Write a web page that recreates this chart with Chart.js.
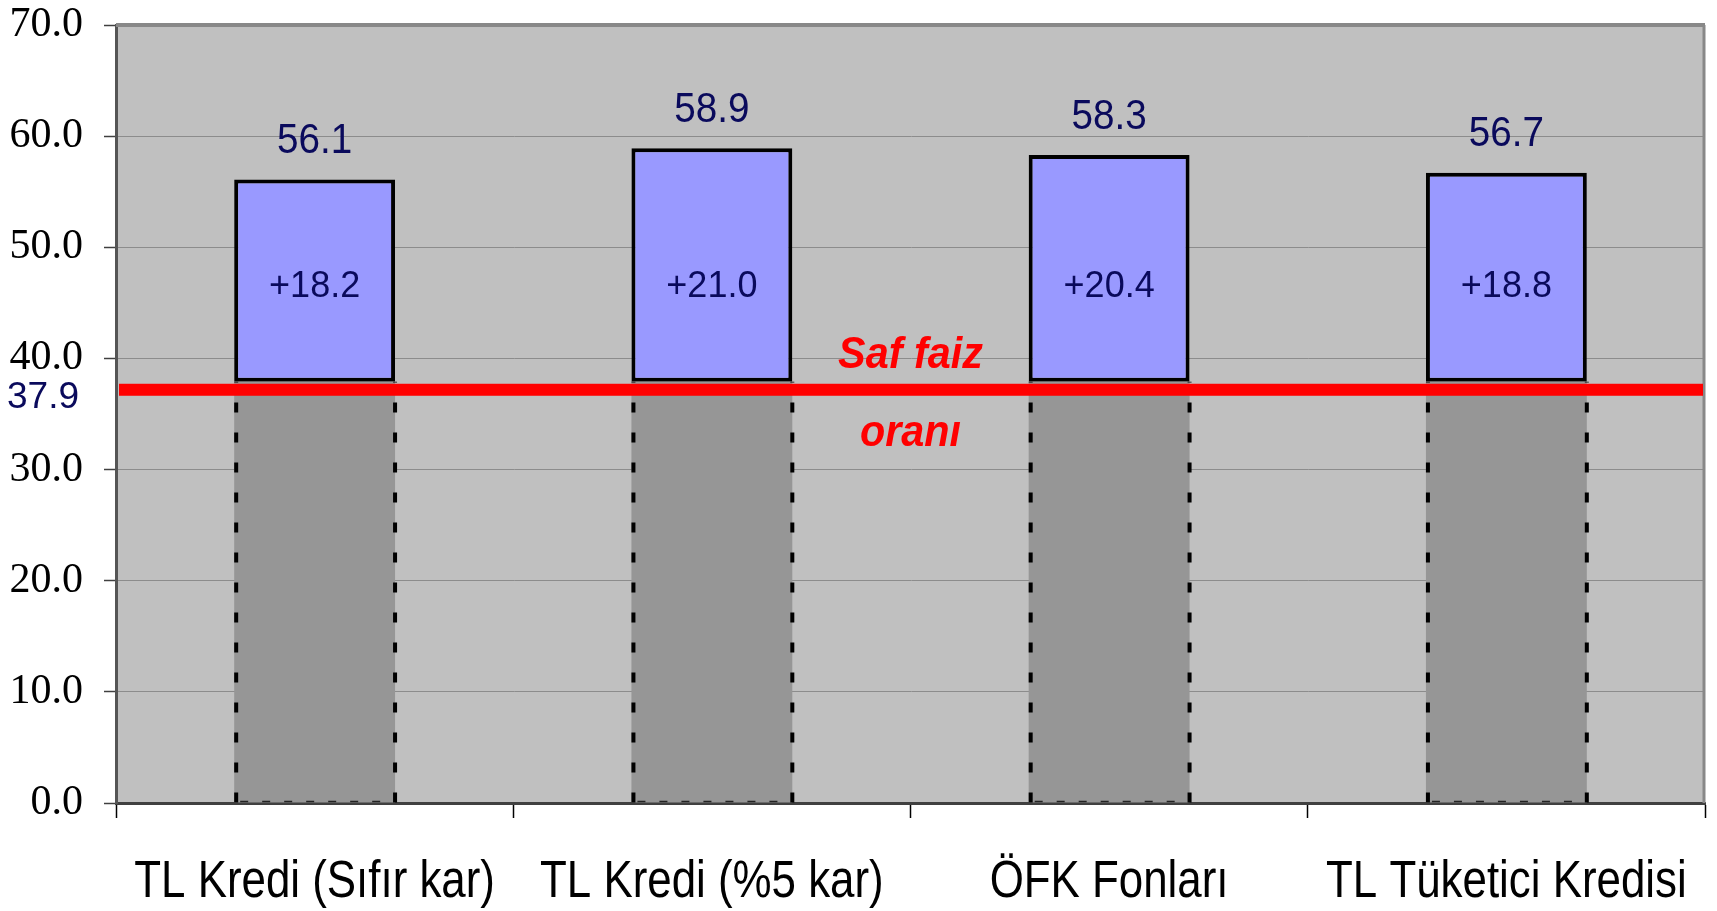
<!DOCTYPE html>
<html>
<head>
<meta charset="utf-8">
<script src="https://cdn.jsdelivr.net/npm/chart.js@4.4.1/dist/chart.umd.min.js"></script>
<style>
  html, body { margin: 0; padding: 0; background: #ffffff; }
  #wrap { width: 1717px; height: 911px; position: relative; }
</style>
</head>
<body>
<div id="wrap"><canvas id="c"></canvas></div>
<script>
// ---- data ----
const categories = ['TL Kredi (Sıfır kar)', 'TL Kredi (%5 kar)', 'ÖFK Fonları', 'TL Tüketici Kredisi'];
const safFaizValue = 37.9;
const baseValues = [37.9, 37.9, 37.9, 37.9];
const premiumValues = [18.2, 21.0, 20.4, 18.8];
const totalValues = [56.1, 58.9, 58.3, 56.7];
const premiumLabels = ['+18.2', '+21.0', '+20.4', '+18.8'];
const safFaizLines = ['Saf faiz', 'oranı'];
const yMin = 0, yMax = 70, yStep = 10;

const NAVY = '#0a0a5c';
const SANS = '"Liberation Sans", Arial, sans-serif';

function drawScaled(ctx, text, x, y, sx) {
  ctx.save();
  ctx.translate(x, y);
  ctx.scale(sx, 1);
  ctx.fillText(text, 0, 0);
  ctx.restore();
}

const decor = {
  id: 'decor',
  beforeDraw(chart) {
    const { ctx, chartArea: a } = chart;
    ctx.save();
    ctx.fillStyle = '#C0C0C0';
    ctx.fillRect(a.left, a.top, a.right - a.left, a.bottom - a.top);
    ctx.restore();
  },
  afterDatasetsDraw(chart) {
    const { ctx, chartArea: a, scales: { x, y } } = chart;
    ctx.save();
    // frame top / right
    ctx.strokeStyle = '#888888';
    ctx.lineWidth = 4;
    ctx.beginPath(); ctx.moveTo(a.left, a.top); ctx.lineTo(a.right, a.top); ctx.stroke();
    ctx.lineWidth = 3;
    ctx.beginPath(); ctx.moveTo(a.right - 1, a.top); ctx.lineTo(a.right - 1, a.bottom); ctx.stroke();

    // dashed edges of base bars
    const baseMeta = chart.getDatasetMeta(0);
    baseMeta.data.forEach(bar => {
      const p = bar.getProps(['x', 'y', 'base', 'width'], true);
      const l = p.x - p.width / 2, r = p.x + p.width / 2;
      ctx.strokeStyle = '#000';
      ctx.lineWidth = 4;
      ctx.setLineDash([10, 20]);
      [l + 2, r].forEach(xx => {
        ctx.beginPath(); ctx.moveTo(xx, p.base); ctx.lineTo(xx, p.y); ctx.stroke();
      });
      ctx.lineWidth = 1.5;
      ctx.setLineDash([8, 14]);
      ctx.strokeStyle = '#222';
      ctx.beginPath(); ctx.moveTo(l + 6, p.base - 1); ctx.lineTo(r - 4, p.base - 1); ctx.stroke();
    });
    ctx.setLineDash([]);

    // red "saf faiz" line
    const yp = y.getPixelForValue(safFaizValue);
    const lc = yp + 8;
    ctx.fillStyle = '#FF0000';
    ctx.fillRect(a.left + 3, lc - 6, a.right - a.left - 5, 12);

    // value label for the line
    ctx.fillStyle = NAVY;
    ctx.font = '37px ' + SANS;
    ctx.textAlign = 'right';
    ctx.textBaseline = 'middle';
    ctx.fillText(safFaizValue.toFixed(1), a.left - 37, lc + 8);

    // "Saf faiz oranı"
    const mx = (x.getPixelForValue(1) + x.getPixelForValue(2)) / 2;
    ctx.fillStyle = '#FF0000';
    ctx.font = 'italic bold 44px ' + SANS;
    ctx.textAlign = 'center';
    ctx.textBaseline = 'alphabetic';
    drawScaled(ctx, safFaizLines[0], mx, lc - 22, 0.94);
    drawScaled(ctx, safFaizLines[1], mx, lc + 56, 0.94);

    // totals above bars & premium labels inside
    const topMeta = chart.getDatasetMeta(1);
    ctx.textBaseline = 'middle';
    topMeta.data.forEach((bar, i) => {
      const p = bar.getProps(['x', 'y'], true);
      ctx.fillStyle = NAVY;
      ctx.font = '42px ' + SANS;
      drawScaled(ctx, totalValues[i].toFixed(1), p.x, p.y - 38, 0.92);
      ctx.font = '36px ' + SANS;
      ctx.fillText(premiumLabels[i], p.x, y.getPixelForValue(46.4));
    });
    ctx.restore();
  },
  afterDraw(chart) {
    // category labels, drawn condensed (Arial Narrow look)
    const { ctx, scales: { x } } = chart;
    ctx.save();
    ctx.fillStyle = '#000000';
    ctx.font = '51px ' + SANS;
    ctx.textAlign = 'center';
    ctx.textBaseline = 'alphabetic';
    x.getLabels().forEach((lab, i) => {
      drawScaled(ctx, lab, x.getPixelForTick(i), x.top + 94, 0.86);
    });
    ctx.restore();
  }
};

new Chart(document.getElementById('c'), {
  type: 'bar',
  data: {
    labels: categories,
    datasets: [
      {
        label: 'Saf faiz oranı',
        data: baseValues,
        backgroundColor: '#969696',
        borderWidth: 0,
        categoryPercentage: 1,
        barPercentage: 0.405
      },
      {
        label: 'Fark',
        data: premiumValues,
        backgroundColor: '#9999FF',
        borderColor: '#000000',
        borderWidth: 4,
        borderSkipped: false,
        categoryPercentage: 1,
        barPercentage: 0.405
      }
    ]
  },
  options: {
    responsive: true,
    maintainAspectRatio: false,
    animation: false,
    layout: { padding: { top: 25, right: 12, left: 0, bottom: 0 } },
    plugins: {
      legend: { display: false },
      tooltip: { enabled: false },
      title: { display: false }
    },
    scales: {
      x: {
        stacked: true,
        offset: true,
        grid: {
          offset: true,
          drawOnChartArea: false,
          drawTicks: true,
          tickLength: 15,
          tickColor: '#000000',
          tickWidth: 1.5
        },
        border: { display: true, color: '#404040', width: 3 },
        ticks: {
          display: false
        },
        afterFit(scale) {
          scale.height = 108;
          scale.paddingLeft = 0; scale.paddingRight = 0;
        }
      },
      y: {
        stacked: true,
        min: yMin,
        max: yMax,
        grid: {
          color: '#8c8c8c',
          lineWidth: 1,
          drawTicks: true,
          tickLength: 12,
          tickColor: '#404040',
          tickWidth: 1.5
        },
        border: { display: true, color: '#555555', width: 3 },
        ticks: {
          stepSize: yStep,
          color: '#000000',
          font: { family: '"Liberation Serif", "Times New Roman", serif', size: 42 },
          padding: 21,
          callback: v => Number(v).toFixed(1)
        },
        afterFit(scale) {
          scale.width = 116;
          scale.paddingTop = 0; scale.paddingBottom = 0;
        }
      }
    }
  },
  plugins: [decor]
});
</script>
</body>
</html>
